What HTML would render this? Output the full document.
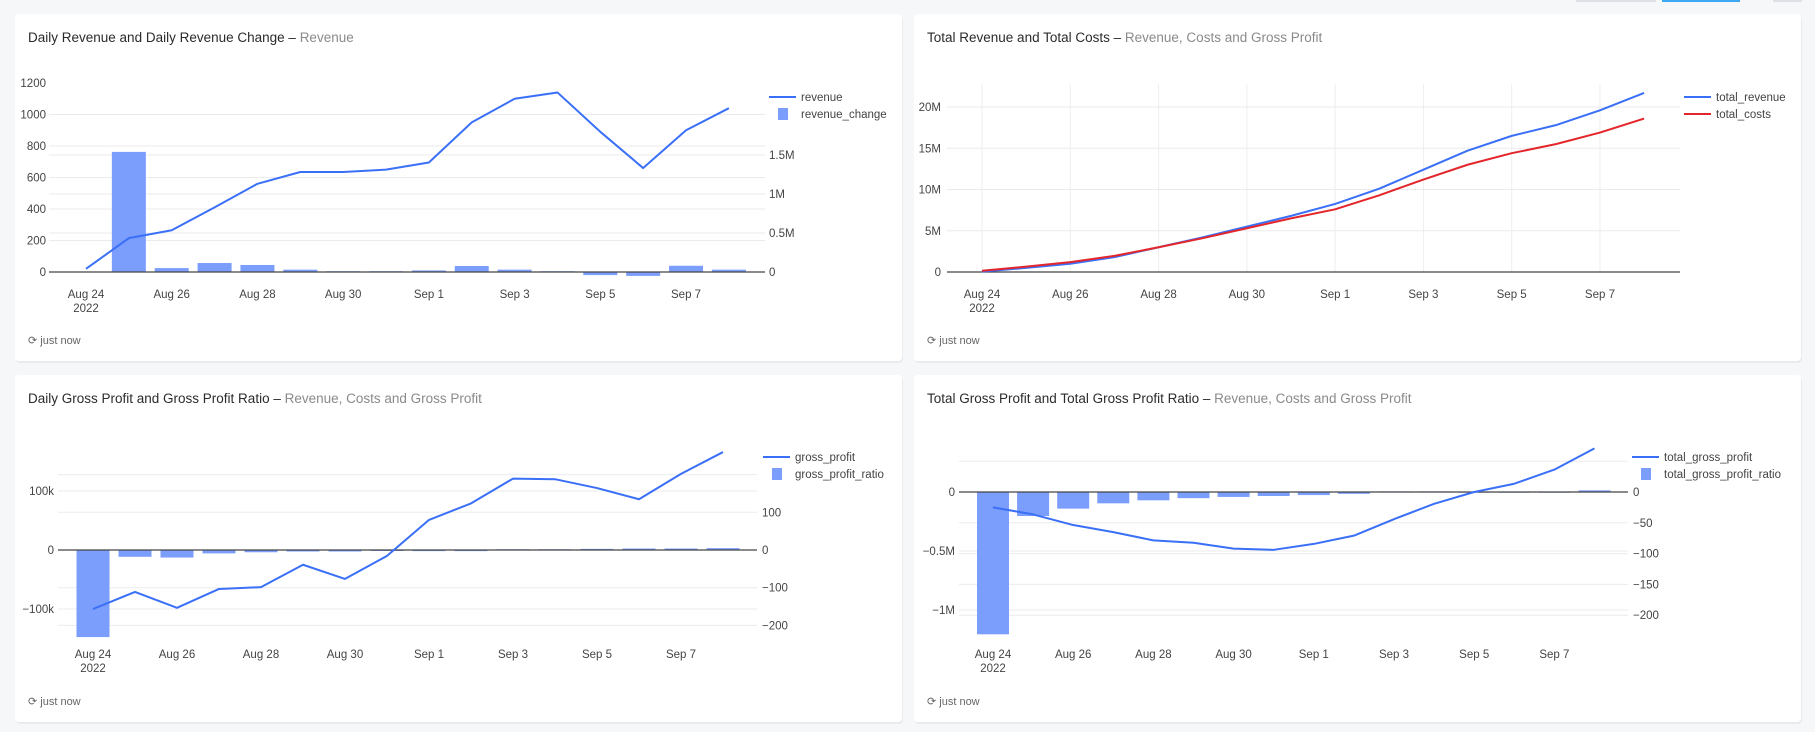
<!DOCTYPE html>
<html><head><meta charset="utf-8">
<style>
html,body{margin:0;padding:0;background:#f5f7f9;}
svg{display:block;font-family:"Liberation Sans",sans-serif;}
</style></head>
<body>
<svg id="page" width="1815" height="732" viewBox="0 0 1815 732" xmlns="http://www.w3.org/2000/svg">
<rect x="0" y="0" width="1815" height="732" fill="#f5f7f9"/>
<rect x="1576" y="0" width="80" height="2" fill="#dde1e6"/>
<rect x="1662" y="0" width="78" height="2" fill="#3ea8f5"/>
<rect x="1773" y="0" width="29" height="2" fill="#dde1e6"/>
</svg>
<script>
// ---- data ----
const days = ["Aug 24","Aug 25","Aug 26","Aug 27","Aug 28","Aug 29","Aug 30","Aug 31","Sep 1","Sep 2","Sep 3","Sep 4","Sep 5","Sep 6","Sep 7","Sep 8"];
const xTickLabels = ["Aug 24","Aug 26","Aug 28","Aug 30","Sep 1","Sep 3","Sep 5","Sep 7"];
const revenue = [20,215,265,410,560,635,635,650,695,950,1100,1140,890,660,900,1040];
const revenueChange = [null,1.54,0.05,0.115,0.09,0.03,0.01,0.01,0.02,0.077,0.03,0.01,-0.04,-0.05,0.08,0.03];
const totalRevenue = [0.05,0.5,1.0,1.8,3.0,4.2,5.5,6.8,8.25,10.1,12.4,14.7,16.5,17.8,19.6,21.7];
const totalCosts = [0.15,0.65,1.2,1.95,3.0,4.1,5.3,6.5,7.6,9.3,11.2,13.0,14.4,15.5,16.9,18.6];
const grossProfit = [-100,-71,-98,-66,-63,-25,-49,-10,51,79,121,120,105,86,129,166];
const grossProfitRatio = [-231,-18,-20,-9,-6,-4,-4,-2,-3,-3,2,2,3,4,4,5];
const totalGrossProfit = [-0.13,-0.19,-0.28,-0.34,-0.41,-0.43,-0.48,-0.49,-0.44,-0.37,-0.23,-0.10,0.0,0.07,0.19,0.37];
const totalGrossProfitRatio = [-231,-39,-27,-18.4,-13.5,-10,-8,-6.5,-5,-3,1,1,0.5,0.5,0.5,2.7];
const c1LeftTicks = [0,200,400,600,800,1000,1200];
const c1RightTicks = [0,0.5,1,1.5];
const c1RightLabels = ["0","0.5M","1M","1.5M"];
const c2LeftTicks = [-100,0,100];
const c2LeftLabels = ["−100k","0","100k"];
const c2RightTicks = [-200,-100,0,100,200];
const c2RightLabels = ["−200","−100","0","100",""];
const c3LeftTicks = [0,5,10,15,20];
const c3LeftLabels = ["0","5M","10M","15M","20M"];
const c4LeftTicks = [-1,-0.5,0];
const c4LeftLabels = ["−1M","−0.5M","0"];
const c4RightTicks = [-200,-150,-100,-50,0,50];
const c4RightLabels = ["−200","−150","−100","−50","0",""];

const NS="http://www.w3.org/2000/svg";
const svg=document.getElementById('page');
function el(tag,attrs,parent){const e=document.createElementNS(NS,tag);for(const k in attrs)e.setAttribute(k,attrs[k]);(parent||svg).appendChild(e);return e;}
function txt(x,y,s,attrs,parent){const t=el('text',Object.assign({x:x,y:y,'font-size':11.5,fill:'#444'},attrs||{}),parent);t.textContent=s;return t;}

const BLUE="#3a6ff7", BAR="#7b9dfb", RED="#e3262b";

function card(x,y,w,h,name,title,sub){
  const g=el('g',{});
  
  
  el('rect',{x:x+1,y:y+2,width:w,height:h,rx:4,fill:'#e9ecef'},g);
  el('rect',{x:x,y:y,width:w,height:h,rx:4,fill:'#fff'},g);
  const t=el('text',{x:x+13,y:y+28,'font-size':13.5,fill:'#2b2b2b'},g);
  
  
  const a=el('tspan',{},t);a.textContent=title;
  const b=el('tspan',{fill:'#2b2b2b'},t);b.textContent=" – ";
  const c=el('tspan',{fill:'#8a8a8a'},t);c.textContent=sub;
  const r=txt(x+13,y+330,"⟳ just now",{'font-size':11,fill:'#666'},g);
  
  
  return g;
}

function chart(o){
  const g=card(o.cx,o.cy,887,347,o.name,o.title,o.sub);
  const X=i=>o.x0+i*o.dx;
  if(o.vgrid){for(let i=0;i<days.length;i+=2){const l=el('line',{x1:X(i),x2:X(i),y1:o.vTop,y2:o.yL(0),stroke:'#eeeeee'},g);}}
  o.lt.forEach((v,i)=>{ if(v!==0 && !(o.noGrid && o.noGrid.includes(v))){const l=el('line',{x1:o.px0,x2:o.px1,y1:o.yL(v),y2:o.yL(v),stroke:'#ebebeb'},g);}
    const t=txt(o.lx,o.yL(v)+4,o.ll[i],{'text-anchor':'end'},g);});
  if(o.rt){o.rt.forEach((v,i)=>{ if(v!==0){const l=el('line',{x1:o.px0,x2:o.px1,y1:o.yR(v),y2:o.yR(v),stroke:'#ebebeb'},g);}
    const t=txt(o.rx,o.yR(v)+4,o.rl[i],{},g);});}
  if(o.bars){o.bars.forEach((v,i)=>{ if(v===null)return; const y0=o.yR(0),y1=o.yR(v);
    const b=el('rect',{x:X(i)-o.bw/2,y:Math.min(y0,y1),width:o.bw,height:Math.max(1,Math.abs(y1-y0)),fill:BAR},g);
    
    });}
  const z=el('line',{x1:o.px0,x2:o.px1,y1:o.yL(0),y2:o.yL(0),stroke:'#444','stroke-width':1.3},g);
  
  o.lines.forEach(s=>{
    const p=el('polyline',{points:s.v.map((v,i)=>X(i)+','+o.yL(v)).join(' '),fill:'none',stroke:s.c,'stroke-width':2,'stroke-linejoin':'round'},g);
    
  });
  xTickLabels.forEach((s,i)=>{const t=txt(X(i*2),o.xly,s,{'text-anchor':'middle'},g);});
  const yr=txt(X(0),o.xly+14,"2022",{'text-anchor':'middle'},g);
  o.legend.forEach((L,i)=>{const y=o.legY+i*17;const lg=el('g',{},g);
    
    if(L.bar)el('rect',{x:o.legX+9,y:y-6,width:10,height:12,fill:BAR},lg);
    else el('line',{x1:o.legX,x2:o.legX+27,y1:y,y2:y,stroke:L.c,'stroke-width':2},lg);
    txt(o.legX+32,y+4,L.n,{},lg);});
}

chart({name:'daily-revenue-card',cx:15,cy:14,title:'Daily Revenue and Daily Revenue Change',sub:'Revenue',
  x0:86,dx:42.86,px0:49,px1:765,yL:v=>272-v*31.5/200,yR:v=>272-v*78,noGrid:[1200],
  lt:c1LeftTicks,ll:c1LeftTicks.map(String),lx:46,rt:c1RightTicks,rl:c1RightLabels,rx:769,
  bars:revenueChange,bw:34,lines:[{v:revenue,c:BLUE,n:'revenue'}],xly:298,
  legX:769,legY:97,legend:[{n:'revenue',c:BLUE},{n:'revenue_change',bar:true}]});

chart({name:'total-revenue-costs-card',cx:914,cy:14,title:'Total Revenue and Total Costs',sub:'Revenue, Costs and Gross Profit',
  x0:982,dx:44.14,px0:947,px1:1680,yL:v=>272-v*8.25,
  lt:c3LeftTicks,ll:c3LeftLabels,lx:941,vgrid:true,vTop:84,
  lines:[{v:totalRevenue,c:BLUE,n:'total_revenue'},{v:totalCosts,c:RED,n:'total_costs'}],xly:298,
  legX:1684,legY:97,legend:[{n:'total_revenue',c:BLUE},{n:'total_costs',c:RED}]});

chart({name:'daily-gross-profit-card',cx:15,cy:375,title:'Daily Gross Profit and Gross Profit Ratio',sub:'Revenue, Costs and Gross Profit',
  x0:93,dx:42,px0:58,px1:757,yL:v=>550-v*0.59,yR:v=>550-v*0.377,
  lt:c2LeftTicks,ll:c2LeftLabels,lx:54,rt:c2RightTicks,rl:c2RightLabels,rx:762,
  bars:grossProfitRatio,bw:33,lines:[{v:grossProfit,c:BLUE,n:'gross_profit'}],xly:658,
  legX:763,legY:457,legend:[{n:'gross_profit',c:BLUE},{n:'gross_profit_ratio',bar:true}]});

chart({name:'total-gross-profit-card',cx:914,cy:375,title:'Total Gross Profit and Total Gross Profit Ratio',sub:'Revenue, Costs and Gross Profit',
  x0:993,dx:40.1,px0:959,px1:1628,yL:v=>492-v*118,yR:v=>492-v*0.616,
  lt:c4LeftTicks,ll:c4LeftLabels,lx:955,rt:c4RightTicks,rl:c4RightLabels,rx:1633,
  bars:totalGrossProfitRatio,bw:32,lines:[{v:totalGrossProfit,c:BLUE,n:'total_gross_profit'}],xly:658,
  legX:1632,legY:457,legend:[{n:'total_gross_profit',c:BLUE},{n:'total_gross_profit_ratio',bar:true}]});
</script>
</body></html>
